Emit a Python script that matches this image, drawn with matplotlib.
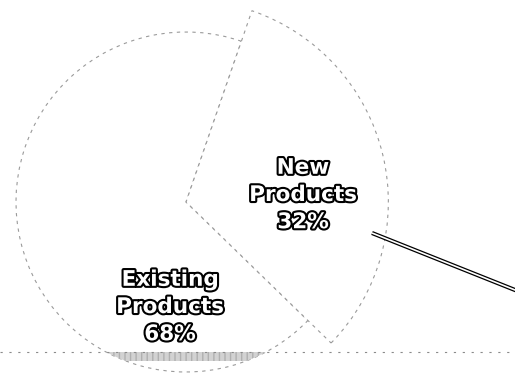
import matplotlib.pyplot as plt
import matplotlib.patheffects as pe
from matplotlib.patches import Rectangle

# data
labels = ['Existing\nProducts', 'New\nProducts']
shares = [68, 32]

W, H = 515, 373

fig = plt.figure(figsize=(W / 100, H / 100), dpi=100)
ax = fig.add_axes([0, 0, 1, 1])

# pie (pixel coords, y flipped)
cx, cy, r = 186, H - 202, 170
wedges, _ = ax.pie(shares, startangle=71, counterclock=True,
                   center=(cx, cy), radius=r, explode=[0, 0.06],
                   colors=['white', 'white'], frame=True,
                   wedgeprops=dict(edgecolor='#9a9a9a', linewidth=0.8,
                                   linestyle=(0, (3, 4))))
ax.set_xlim(0, W)
ax.set_ylim(0, H)
ax.set_aspect('equal')
ax.axis('off')
# the new-products slice is drawn a bit bigger than the rest
wedges[1].set_radius(r * 1.19)

# grey shadow band at the bottom of the pie, under the base line
base_y = H - 352
band = Rectangle((0, base_y - 9), W, 9, facecolor='#d2d2d2', edgecolor='#b0b0b0',
                 hatch='|||', linewidth=0, zorder=2)
ax.add_patch(band)
band.set_clip_path(wedges[0])
ax.axhline(base_y, color='#8a8a8a', lw=0.8, ls=(0, (2, 6)), zorder=3)

# labels, white text with black outline
outline = [pe.withStroke(linewidth=3.0, foreground='black')]
for name, val, (tx, ty) in zip(labels, shares, [(170, H - 307), (303, H - 195)]):
    ax.text(tx, ty, f'{name}\n{val}%', ha='center', va='center',
            fontsize=15.5, fontweight='bold', color='white',
            linespacing=1.45, path_effects=outline, zorder=5)

# double pointer line
px = [372, 520]
py = [H - 233, H - 292]
ax.plot(px, py, color='black', lw=3.0, solid_capstyle='butt', zorder=4)
ax.plot(px, py, color='white', lw=1.2, solid_capstyle='butt', zorder=4)

fig.savefig('out.png', dpi=100)
